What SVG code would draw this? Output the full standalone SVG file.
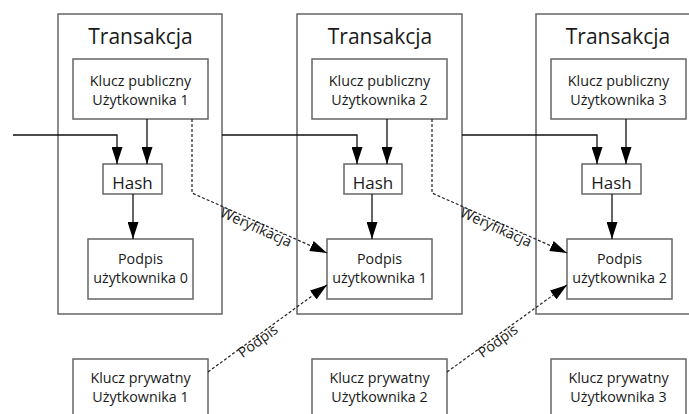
<svg xmlns="http://www.w3.org/2000/svg" width="689" height="414" viewBox="0 0 689 414">
<defs>
<marker id="arr" markerUnits="userSpaceOnUse" markerWidth="17" markerHeight="11" refX="17" refY="5.5" orient="auto" viewBox="0 0 17 11">
<path d="M0,0 L17,5.5 L0,11 z" fill="#000"/>
</marker>
<style>
.tx{fill:#fff;stroke:#666;stroke-width:1.5}
.bx{fill:#fff;stroke:#666;stroke-width:1.5}
.t{font-family:"Open Sans","Noto Sans",sans-serif;fill:#1a1a1a;text-anchor:middle}
.title{font-size:21px}
.lbl{font-size:14.3px}
.hash{font-size:17px}
.ln{fill:none;stroke:#111;stroke-width:1.3}
.dash{fill:none;stroke:#222;stroke-width:1.2;stroke-dasharray:3 2}
</style>
</defs>
<rect width="689" height="414" fill="#fff"/>
<g id="transakcja1">
<rect class="tx" x="58" y="14" width="164" height="300"/>
<text class="t title" x="140.5" y="44">Transakcja</text>
</g>
<g id="transakcja2">
<rect class="tx" x="297" y="14" width="165" height="300"/>
<text class="t title" x="380" y="44">Transakcja</text>
</g>
<g id="transakcja3">
<rect class="tx" x="536" y="14" width="166" height="300"/>
<text class="t title" x="618" y="44">Transakcja</text>
</g>
<g id="pub1">
<rect class="bx" x="73" y="59" width="135" height="60"/>
<text class="t lbl" x="140.5" y="86">Klucz publiczny</text>
<text class="t lbl" x="140.5" y="105">Użytkownika 1</text>
</g>
<g id="pub2">
<rect class="bx" x="312" y="59" width="135" height="60"/>
<text class="t lbl" x="379.5" y="86">Klucz publiczny</text>
<text class="t lbl" x="379.5" y="105">Użytkownika 2</text>
</g>
<g id="pub3">
<rect class="bx" x="551" y="59" width="135" height="60"/>
<text class="t lbl" x="618.5" y="86">Klucz publiczny</text>
<text class="t lbl" x="618.5" y="105">Użytkownika 3</text>
</g>
<g id="hash1">
<rect class="bx" x="103" y="164" width="59" height="30"/>
<text class="t hash" x="132.5" y="189">Hash</text>
</g>
<g id="hash2">
<rect class="bx" x="344" y="164" width="58" height="30"/>
<text class="t hash" x="373" y="189">Hash</text>
</g>
<g id="hash3">
<rect class="bx" x="582" y="164" width="59" height="30"/>
<text class="t hash" x="611.5" y="189">Hash</text>
</g>
<g id="sig0">
<rect class="bx" x="88" y="239" width="105" height="60"/>
<text class="t lbl" x="140.5" y="264">Podpis</text>
<text class="t lbl" x="140.5" y="283">użytkownika 0</text>
</g>
<g id="sig1">
<rect class="bx" x="327" y="239" width="105" height="60"/>
<text class="t lbl" x="379.5" y="264">Podpis</text>
<text class="t lbl" x="379.5" y="283">użytkownika 1</text>
</g>
<g id="sig2">
<rect class="bx" x="567" y="239" width="105" height="60"/>
<text class="t lbl" x="619.5" y="264">Podpis</text>
<text class="t lbl" x="619.5" y="283">użytkownika 2</text>
</g>
<g id="priv1">
<rect class="bx" x="73" y="359" width="135" height="70"/>
<text class="t lbl" x="140.5" y="383">Klucz prywatny</text>
<text class="t lbl" x="140.5" y="402">Użytkownika 1</text>
</g>
<g id="priv2">
<rect class="bx" x="312" y="359" width="135" height="70"/>
<text class="t lbl" x="379.5" y="383">Klucz prywatny</text>
<text class="t lbl" x="379.5" y="402">Użytkownika 2</text>
</g>
<g id="priv3">
<rect class="bx" x="551" y="359" width="135" height="70"/>
<text class="t lbl" x="618.5" y="383">Klucz prywatny</text>
<text class="t lbl" x="618.5" y="402">Użytkownika 3</text>
</g>
<g id="connectors">
<path class="ln" d="M13,135 H117 V164" marker-end="url(#arr)"/>
<path class="ln" d="M222,135 H357 V164" marker-end="url(#arr)"/>
<path class="ln" d="M462,135 H597 V164" marker-end="url(#arr)"/>
<path class="ln" d="M147,119 V164" marker-end="url(#arr)"/>
<path class="ln" d="M387,119 V164" marker-end="url(#arr)"/>
<path class="ln" d="M626,119 V164" marker-end="url(#arr)"/>
<path class="ln" d="M133,194 V239" marker-end="url(#arr)"/>
<path class="ln" d="M372,194 V239" marker-end="url(#arr)"/>
<path class="ln" d="M612,194 V239" marker-end="url(#arr)"/>
<path class="dash" d="M192,119 V193 L327,253" marker-end="url(#arr)"/>
<path class="dash" d="M432,119 V193 L567,253" marker-end="url(#arr)"/>
<path class="dash" d="M208,372 L327,285" marker-end="url(#arr)"/>
<path class="dash" d="M447,372 L567,285" marker-end="url(#arr)"/>
<text class="t lbl" transform="translate(258,222.5) rotate(24)" y="10">Weryfikacja</text>
<text class="t lbl" transform="translate(498,222.5) rotate(24)" y="10">Weryfikacja</text>
<text class="t lbl" transform="translate(255,337) rotate(-36)" y="10">Podpis</text>
<text class="t lbl" transform="translate(495,337) rotate(-36)" y="10">Podpis</text>
</g>
</svg>
